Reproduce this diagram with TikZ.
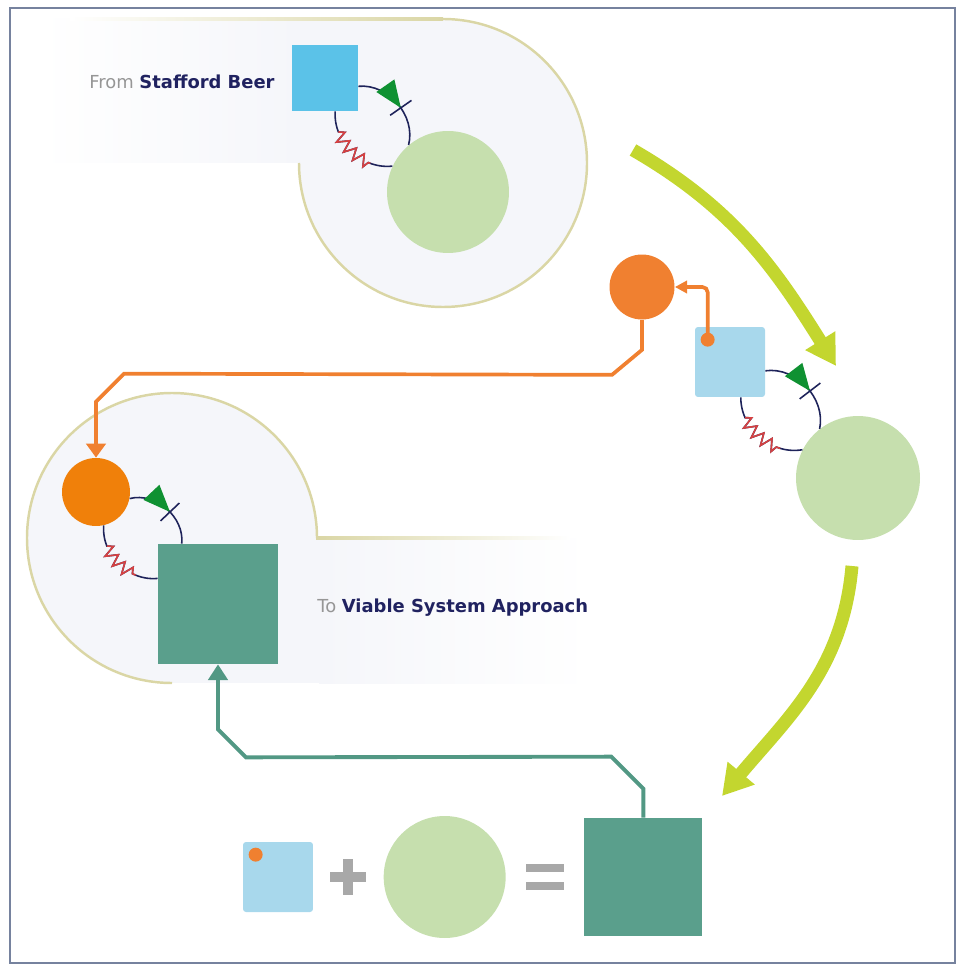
\documentclass[tikz,border=0pt]{standalone}
\usepackage{fontspec}
\setmainfont{DejaVu Sans}
\usetikzlibrary{positioning, calc, arrows.meta, decorations.pathmorphing, decorations.markings}
\definecolor{marco}{RGB}{118,130,158}
\definecolor{panel}{RGB}{245,246,250}
\definecolor{borde}{RGB}{218,214,165}
\definecolor{cielo}{RGB}{91,194,232}
\definecolor{celeste}{RGB}{168,216,236}
\definecolor{hoja}{RGB}{198,223,174}
\definecolor{naranja}{RGB}{240,128,48}
\definecolor{naranjab}{RGB}{240,128,10}
\definecolor{verdeazul}{RGB}{90,159,140}
\definecolor{verdeazulb}{RGB}{82,152,132}
\definecolor{lima}{RGB}{195,214,47}
\definecolor{marino}{RGB}{30,35,90}
\definecolor{muelle}{RGB}{215,65,65}
\definecolor{flecha}{RGB}{15,145,50}
\definecolor{tinta}{RGB}{32,34,96}
\definecolor{gris}{RGB}{150,150,150}
\definecolor{simbolo}{RGB}{168,168,168}
\tikzset{
	sqnode/.style={rectangle, inner sep=0pt, minimum size=#1}, % cuadrados
	ballnode/.style={circle, inner sep=0pt, minimum size=#1}, % circulos
	dotnode/.style={circle, inner sep=0pt, minimum size=0.28cm, fill=naranja}, % punto naranja
	navyline/.style={draw=marino, line width=0.9pt}, % arcos del lazo
	fwdloop/.style={navyline, postaction={decorate, decoration={markings,
		mark=at position 0.56 with {\fill[flecha] (0,0) -- (-27,11) -- (-27,-11) -- cycle;
		\draw[marino, line width=0.9pt] (0,-13) -- (0,13);}}}}, % flecha verde y tope
	backloop/.style={navyline, decorate, decoration={zigzag, amplitude=0.12cm, segment length=0.22cm,
		pre=curveto, pre length=0.42cm, post=curveto, post length=0.45cm}}, % arco de regreso
	springloop/.style={draw=muelle, line width=0.9pt, decorate, decoration={zigzag, amplitude=0.12cm,
		segment length=0.22cm, pre=moveto, pre length=0.42cm, post=moveto, post length=0.45cm}}, % resorte
	bigarrow/.style={draw=lima, line width=7.4pt, -{Triangle[length=17pt,width=19pt]}}, % flechas grandes
	orangeline/.style={draw=naranja, line width=2.1pt}, % conector naranja
	tealline/.style={draw=verdeazulb, line width=2.2pt, -{Triangle[length=9pt,width=11pt]}}, % conector verde
	rimline/.style={draw=borde, line width=1.4pt}, % borde de los paneles
	lettering/.style={anchor=west, inner sep=0pt, font=\fontsize{10.2}{12}\selectfont, text=tinta} % textos
}

\begin{document}
\begin{tikzpicture}[x=0.02cm, y=0.02cm]
	\useasboundingbox (0,0) rectangle (961,-969);
	\draw[marco, line width=1.1pt] (10,-8) rectangle (955,-963);
	% panel de arriba
	\fill[panel] (443,-163) circle[radius=144];
	\shade[left color=white, right color=panel] (40,-19) rectangle (300,-163);
	\fill[panel] (299,-19) rectangle (443,-163);
	\draw[rimline] (443,-19) arc[start angle=90, end angle=-180, radius=144];
	\shade[left color=white, right color=borde] (70,-17.8) rectangle (443,-20.2);
	% panel de abajo
	\fill[panel] (172,-538) circle[radius=145];
	\fill[panel] (172,-538) rectangle (320,-683);
	\shade[left color=panel, right color=white] (319,-538) rectangle (590,-683);
	\draw[rimline] (317,-538) arc[start angle=0, end angle=270, radius=145];
	\shade[left color=borde, right color=white] (316,-536.8) rectangle (570,-539.2);

	\node[lettering] (from) at (89,-82) {\textcolor{gris}{From} \textbf{Stafford Beer}};
	\node[lettering] (to) at (317,-608) {\textcolor{gris}{To} \textbf{Viable System Approach}};

	\node[sqnode=1.32cm, fill=cielo] (sq1) at (325,-78) {};
	\node[ballnode=2.44cm, fill=hoja] (ci1) at (448,-192) {};
	\node[ballnode=1.3cm, fill=naranja] (or1) at (642,-287) {};
	\node[sqnode=1.4cm, fill=celeste, rounded corners=1.7pt] (sq2) at (730,-362) {};
	\node[ballnode=2.48cm, fill=hoja] (ci2) at (858,-478) {};
	\node[ballnode=1.36cm, fill=naranjab] (or2) at (96,-492) {};
	\node[sqnode=2.4cm, fill=verdeazul] (sq3) at (218,-604) {};
	% la suma de abajo
	\node[sqnode=1.4cm, fill=celeste, rounded corners=1.7pt] (q0) at (278,-877) {};
	\node[ballnode=2.44cm, fill=hoja, right=1.4cm of q0] (q1) {};
	\node[sqnode=2.36cm, fill=verdeazul, right=1.56cm of q1] (q2) {};
	\coordinate (pl) at ($(q0.east)!0.5!(q1.west)$);
	\coordinate (eq) at ($(q1.east)!0.5!(q2.west)$);
	\fill[simbolo] ($(pl)+(-18,-5)$) rectangle ($(pl)+(18,5)$);
	\fill[simbolo] ($(pl)+(-5,-18)$) rectangle ($(pl)+(5,18)$);
	\fill[simbolo] ($(eq)+(-19,5)$) rectangle ($(eq)+(19,13)$);
	\fill[simbolo] ($(eq)+(-19,-5)$) rectangle ($(eq)+(19,-13)$);

	% lazos
	\draw[fwdloop] (sq1.-14) to[bend left=55] (ci1.130);
	\draw[backloop] (sq1.-73) to[bend right=50] (ci1.155);
	\draw[springloop] (sq1.-73) to[bend right=50] (ci1.155);
	\draw[fwdloop] (sq2.-14) to[bend left=55] (ci2.128);
	\draw[backloop] (sq2.-73) to[bend right=50] (ci2.153);
	\draw[springloop] (sq2.-73) to[bend right=50] (ci2.153);
	\draw[fwdloop] (or2.-11) to[bend left=55] (sq3.121);
	\draw[backloop] (or2.-77) to[bend right=50] (sq3.157);
	\draw[springloop] (or2.-77) to[bend right=50] (sq3.157);

	% conectores
	\draw[orangeline, rounded corners=3pt, -{Triangle[length=7pt,width=7pt]}] (sq2.north west) ++(13,-13) |- (or1.east);
	\node[dotnode] (d1) at ($(sq2.north west)+(13,-13)$) {};
	\node[dotnode] (d0) at ($(q0.north west)+(13,-13)$) {};
	\draw[orangeline, -{Triangle[length=8pt,width=11pt]}] (or1.south) -- ++(0,-30) -- ++(-30,-25)
		-- ($(or2.north)+(28,84)$) -- ($(or2.north)+(0,56)$) -- (or2.north);
	\draw[tealline] (q2.north) -- ++(0,29) -- ++(-32,32) -- ($(sq3.south)+(28,-93)$)
		-- ($(sq3.south)+(0,-65)$) -- (sq3.south);

	\coordinate (a1) at (633,-150);
	\coordinate (b1) at (836,-366);
	\draw[bigarrow] (a1) to[out=-30, in=122] (b1);
	\coordinate (a2) at (852,-566);
	\coordinate (b2) at (722,-796);
	\draw[bigarrow] (a2) to[out=-95, in=50] (b2);
\end{tikzpicture}
\end{document}
